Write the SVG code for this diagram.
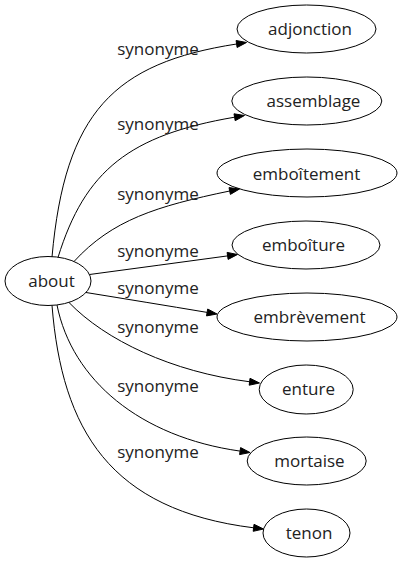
<svg xmlns="http://www.w3.org/2000/svg" width="402" height="563" viewBox="0 0 402 563">
<style>
  .node ellipse { fill: none; stroke: #000; stroke-width: 1; }
  text { font-family: "Open Sans", "DejaVu Sans", sans-serif; font-size: 17px; fill: #222; text-anchor: middle; }
  .edges path { fill: none; stroke: #000; stroke-width: 1; }
  .edges polygon { fill: #000; stroke: #000; stroke-width: 1; }
</style>
<rect x="0" y="0" width="402" height="563" fill="#fff"/>
<g class="edges" id="edges">
  <path d="M52,257 C65,112 114,63 236.6,44"/>
  <polygon points="246.5,42.5 236.1,40.5 237.1,47.5"/>
  <text x="158" y="55">synonyme</text>

  <path d="M58,257.5 C85,170 130,135 234.6,117.2"/>
  <polygon points="244.5,115.5 234,113.8 235.2,120.7"/>
  <text x="158" y="130">synonyme</text>

  <path d="M74,261.5 C112,220 156.3,206.2 229.7,191"/>
  <polygon points="239.5,189 229,187.6 230.4,194.4"/>
  <text x="158" y="200">synonyme</text>

  <path d="M89.5,274.5 C136,268.4 182,262 227.6,255.9"/>
  <polygon points="237.5,254.5 227.1,252.4 228.1,259.4"/>
  <text x="158" y="257">synonyme</text>

  <path d="M86,292.5 C126,299 166,305.5 207.1,312.4"/>
  <polygon points="217,314 207.7,309 206.5,315.9"/>
  <text x="158" y="294">synonyme</text>

  <path d="M69,302.5 C105,340 172,372 249.6,381.75"/>
  <polygon points="259.5,383 250,378.3 249.2,385.2"/>
  <text x="158" y="333">synonyme</text>

  <path d="M57,305 C72,380 140,437 240.1,451.1"/>
  <polygon points="250,452.5 240.6,447.6 239.6,454.6"/>
  <text x="158" y="392">synonyme</text>

  <path d="M52,305.4 C62,430 110,510 253.6,527.8"/>
  <polygon points="263.5,529 254,524.3 253.2,531.3"/>
  <text x="158" y="458">synonyme</text>
</g>
<g class="node" id="node-about">
  <ellipse cx="48" cy="281" rx="43" ry="24.5"/>
  <text x="51.5" y="286.5">about</text>
</g>
<g class="node" id="node-adjonction">
  <ellipse cx="306.5" cy="29" rx="69.5" ry="24"/>
  <text x="310" y="35">adjonction</text>
</g>
<g class="node" id="node-assemblage">
  <ellipse cx="306.8" cy="101" rx="75" ry="24"/>
  <text x="313.5" y="107">assemblage</text>
</g>
<g class="node" id="node-emboitement">
  <ellipse cx="307" cy="173" rx="90" ry="24"/>
  <text x="306.5" y="179.5">emboîtement</text>
</g>
<g class="node" id="node-emboiture">
  <ellipse cx="306" cy="245" rx="74" ry="24"/>
  <text x="303.5" y="251">emboîture</text>
</g>
<g class="node" id="node-embrevement">
  <ellipse cx="307" cy="317" rx="90" ry="24"/>
  <text x="309.5" y="322.5">embrèvement</text>
</g>
<g class="node" id="node-enture">
  <ellipse cx="306.2" cy="389.5" rx="47" ry="24.5"/>
  <text x="308.5" y="394.5">enture</text>
</g>
<g class="node" id="node-mortaise">
  <ellipse cx="306.7" cy="461" rx="59.5" ry="24"/>
  <text x="309.5" y="466.5">mortaise</text>
</g>
<g class="node" id="node-tenon">
  <ellipse cx="306.5" cy="533" rx="43.5" ry="24"/>
  <text x="309" y="538.5">tenon</text>
</g>
</svg>
